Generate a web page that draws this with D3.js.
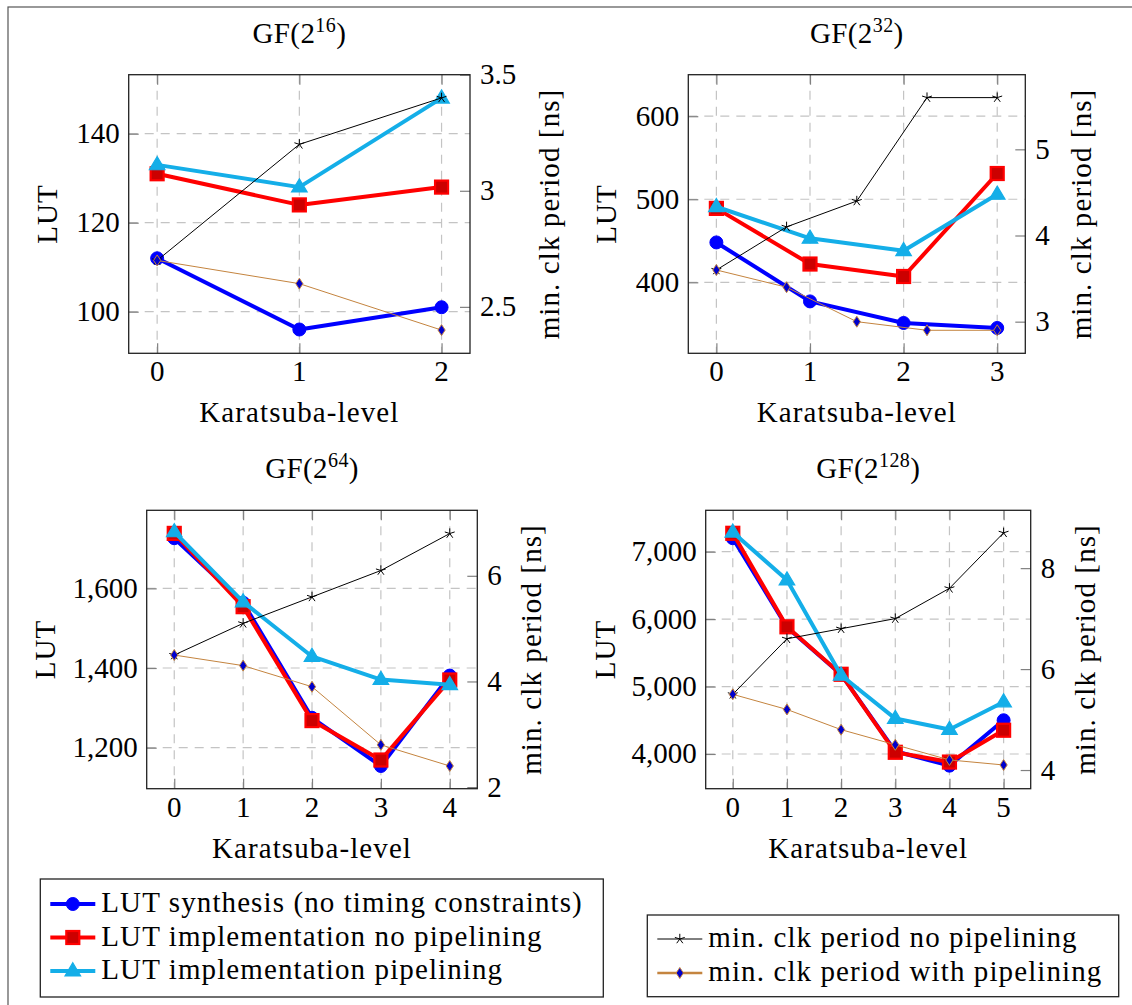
<!DOCTYPE html>
<html><head><meta charset="utf-8">
<script src="https://cdn.jsdelivr.net/npm/d3@7"></script>
</head>
<body style="margin:0"><svg id="c" width="1132" height="1005"></svg>
<script>
// ---------- data ----------
const levels16 = [0, 1, 2];
const lutSynth16 = [112, 96, 101];
const lutImplNoPipe16 = [131, 124, 128];
const lutImplPipe16 = [133, 128, 148];
const clkLevels16 = [0, 1, 2];
const clkNoPipe16 = [2.7, 3.2, 3.4];
const clkPipe16 = [2.7, 2.6, 2.4];

const levels32 = [0, 1, 2, 3];
const lutSynth32 = [448, 377, 351, 345];
const lutImplNoPipe32 = [489, 422, 407, 531];
const lutImplPipe32 = [491, 453, 438, 506];
const clkLevels32 = [0, 0.75, 1.5, 2.25, 3];
const clkNoPipe32 = [3.6, 4.1, 4.4, 5.6, 5.6];
const clkPipe32 = [3.6, 3.4, 3.0, 2.9, 2.9];

const levels64 = [0, 1, 2, 3, 4];
const lutSynth64 = [1726, 1564, 1275, 1154, 1381];
const lutImplNoPipe64 = [1738, 1554, 1268, 1169, 1370];
const lutImplPipe64 = [1742, 1566, 1429, 1371, 1358];
const clkLevels64 = [0, 1, 2, 3, 4];
const clkNoPipe64 = [4.5, 5.1, 5.6, 6.1, 6.8];
const clkPipe64 = [4.5, 4.3, 3.9, 2.8, 2.4];

const levels128 = [0, 1, 2, 3, 4, 5];
const lutSynth128 = [7200, 5880, 5180, 4040, 3827, 4500];
const lutImplNoPipe128 = [7273, 5886, 5182, 4025, 3880, 4352];
const lutImplPipe128 = [7290, 6580, 5168, 4525, 4362, 4772];
const clkLevels128 = [0, 1, 2, 3, 4, 5];
const clkNoPipe128 = [5.5, 6.6, 6.8, 7.0, 7.6, 8.7];
const clkPipe128 = [5.5, 5.2, 4.8, 4.5, 4.2, 4.1];

const titlesExp = ["16", "32", "64", "128"];
const lutTicks = [[100, 120, 140], [400, 500, 600], [1200, 1400, 1600], [4000, 5000, 6000, 7000]];
const clkTicks = [[2.5, 3, 3.5], [3, 4, 5], [2, 4, 6], [4, 6, 8]];
const seriesNames = ["LUT synthesis (no timing constraints)", "LUT implementation no pipelining",
  "LUT implementation pipelining", "min. clk period no pipelining", "min. clk period with pipelining"];

// ---------- layout / style ----------
const FS = 29;
const C = {blue: "#0000ff", red: "#ff0000", redFill: "#cc0000", cyan: "#14aee8",
  black: "#000", brown: "#c4843f", diamond: "#0000cc", grid: "#c4c4c4", tick: "#808080"};

const panels = [
  {exp: titlesExp[0], box: [128.7, 74.7, 470, 353.3], xd: [-0.2, 2.2], ld: [90.65, 153.26], rd: [2.3, 3.5],
   lev: levels16, lut: [lutSynth16, lutImplNoPipe16, lutImplPipe16], clkLev: clkLevels16, clk: [clkNoPipe16, clkPipe16],
   lt: lutTicks[0], rt: clkTicks[0], llab: 72, rlab: 89},
  {exp: titlesExp[1], box: [688.3, 74.7, 1025.3, 353.3], xd: [-0.3, 3.3], ld: [314.5, 650], rd: [2.633, 5.866],
   lev: levels32, lut: [lutSynth32, lutImplNoPipe32, lutImplPipe32], clkLev: clkLevels32, clk: [clkNoPipe32, clkPipe32],
   lt: lutTicks[1], rt: clkTicks[1], llab: 72, rlab: 66},
  {exp: titlesExp[2], box: [146.7, 510.3, 477.3, 788.7], xd: [-0.4, 4.4], ld: [1097, 1796], rd: [1.97, 7.24],
   lev: levels64, lut: [lutSynth64, lutImplNoPipe64, lutImplPipe64], clkLev: clkLevels64, clk: [clkNoPipe64, clkPipe64],
   lt: lutTicks[2], rt: clkTicks[2], llab: 92, rlab: 64},
  {exp: titlesExp[3], box: [705.7, 510.3, 1030.7, 788.7], xd: [-0.5, 5.5], ld: [3485, 7614], rd: [3.63, 9.146],
   lev: levels128, lut: [lutSynth128, lutImplNoPipe128, lutImplPipe128], clkLev: clkLevels128, clk: [clkNoPipe128, clkPipe128],
   lt: lutTicks[3], rt: clkTicks[3], llab: 91, rlab: 64},
];

const svg = d3.select("#c");
svg.append("rect").attr("x", 8).attr("y", 7).attr("width", 1140).attr("height", 1010)
  .attr("fill", "none").attr("stroke", "#555").attr("stroke-width", 1.2);

function marker(g, kind, x, y) {
  if (kind === 0) {
    g.append("circle").attr("cx", x).attr("cy", y).attr("r", 6.5).attr("fill", C.blue).attr("stroke", C.blue);
  } else if (kind === 1) {
    g.append("rect").attr("x", x - 6.5).attr("y", y - 6.5).attr("width", 13).attr("height", 13)
      .attr("fill", C.redFill).attr("stroke", C.red).attr("stroke-width", 2.2);
  } else if (kind === 2) {
    const s = 8.2;
    g.append("path").attr("d", `M${x},${y - s}L${x + s * 0.95},${y + s * 0.6}L${x - s * 0.95},${y + s * 0.6}Z`)
      .attr("fill", C.cyan).attr("stroke", C.cyan).attr("stroke-width", 1.2);
  } else if (kind === 3) {
    const r = 5.2; let d = "";
    for (let i = 0; i < 5; i++) {
      const a = -Math.PI / 2 + i * 2 * Math.PI / 5;
      d += `M${x},${y}L${x + r * Math.cos(a)},${y + r * Math.sin(a)}`;
    }
    g.append("path").attr("d", d).attr("stroke", C.black).attr("stroke-width", 1).attr("fill", "none");
  } else {
    g.append("path").attr("d", `M${x},${y - 5.5}L${x + 3.6},${y}L${x},${y + 5.5}L${x - 3.6},${y}Z`)
      .attr("fill", C.diamond).attr("stroke", C.brown).attr("stroke-width", 1);
  }
}
const lineStyle = [
  {c: C.blue, w: 4}, {c: C.red, w: 4}, {c: C.cyan, w: 4}, {c: C.black, w: 1}, {c: C.brown, w: 1}];

// all texts are appended straight to the svg root
const textQueue = [];
function addText(str, x, y, anchor, rot, ls, sup) {
  textQueue.push({str, x, y, anchor, rot, ls, sup});
}

panels.forEach(p => {
  const [x0, y0, x1, y1] = p.box;
  const x = d3.scaleLinear().domain(p.xd).range([x0, x1]);
  const yl = d3.scaleLinear().domain(p.ld).range([y1, y0]);
  const yr = d3.scaleLinear().domain(p.rd).range([y1, y0]);
  const g = svg.append("g");

  g.append("g").selectAll("line").data(p.lev).join("line")
    .attr("x1", d => x(d)).attr("x2", d => x(d)).attr("y1", y0).attr("y2", y1)
    .attr("stroke", C.grid).attr("stroke-width", 1.2).attr("stroke-dasharray", "9,7");
  g.append("g").selectAll("line").data(p.lt).join("line")
    .attr("x1", x0).attr("x2", x1).attr("y1", d => yl(d)).attr("y2", d => yl(d))
    .attr("stroke", C.grid).attr("stroke-width", 1.2).attr("stroke-dasharray", "9,7");

  const axes = [
    g.append("g").attr("transform", `translate(0,${y1})`).call(d3.axisBottom(x).tickValues(p.lev).tickSizeInner(-10).tickSizeOuter(0)),
    g.append("g").attr("transform", `translate(0,${y0})`).call(d3.axisTop(x).tickValues(p.lev).tickSizeInner(-10).tickSizeOuter(0)),
    g.append("g").attr("transform", `translate(${x0},0)`).call(d3.axisLeft(yl).tickValues(p.lt).tickSizeInner(-10).tickSizeOuter(0)),
    g.append("g").attr("transform", `translate(${x1},0)`).call(d3.axisRight(yr).tickValues(p.rt).tickSizeInner(-10).tickSizeOuter(0))
  ];
  axes.forEach(a => {
    a.attr("font-family", null).attr("font-size", null);
    a.select(".domain").remove();
    a.selectAll(".tick text").remove();
    a.selectAll(".tick line").attr("stroke", C.tick).attr("stroke-width", 1.2);
  });
  const fmtL = d3.format(",");
  p.lev.forEach(v => addText(d3.format("d")(v), x(v), y1 + 28, "middle"));
  p.lt.forEach(v => addText(fmtL(v), x0 - 9, yl(v) + 9.5, "end"));
  p.rt.forEach(v => addText(String(v), x1 + 10, yr(v) + 9.5, "start"));

  g.append("rect").attr("x", x0).attr("y", y0).attr("width", x1 - x0).attr("height", y1 - y0)
    .attr("fill", "none").attr("stroke", "#222").attr("stroke-width", 1.3);

  const all = [
    ...p.lut.map((vals, i) => ({k: i, pts: vals.map((v, j) => [x(p.lev[j]), yl(v)])})),
    ...p.clk.map((vals, i) => ({k: 3 + i, pts: vals.map((v, j) => [x(p.clkLev[j]), yr(v)])}))
  ];
  all.forEach(s => {
    const st = lineStyle[s.k];
    g.append("path").attr("d", d3.line()(s.pts)).attr("fill", "none")
      .attr("stroke", st.c).attr("stroke-width", st.w).attr("stroke-linejoin", "round");
    s.pts.forEach(pt => marker(g, s.k, pt[0], pt[1]));
  });

  const cx = (x0 + x1) / 2;
  addText(null, cx, y0 - 32, "middle", false, 0.4, p.exp);
  addText("Karatsuba-level", cx, y1 + 69, "middle", false, 1.1);
  const cy = (y0 + y1) / 2;
  addText("LUT", x0 - p.llab, cy, "middle", true, 1.1);
  addText("min. clk period [ns]", x1 + p.rlab, cy, "middle", true, 1.1);
});

function legend(x0, y0, w, h, rows) {
  const g = svg.append("g");
  g.append("rect").attr("x", x0).attr("y", y0).attr("width", w).attr("height", h)
    .attr("fill", "#fff").attr("stroke", "#222").attr("stroke-width", 1.3);
  rows.forEach(r => {
    const st = lineStyle[r.k];
    const my = r.base - 8;
    g.append("line").attr("x1", x0 + 10).attr("x2", x0 + 55).attr("y1", my).attr("y2", my)
      .attr("stroke", st.c).attr("stroke-width", r.k >= 3 ? (r.k === 4 ? 2.5 : 1) : 4);
    marker(g, r.k, x0 + 32.5, my);
    addText(seriesNames[r.k], x0 + 61, r.base, "start", false, 1.1);
  });
}
legend(40.3, 879, 563, 118, [{k: 0, base: 912}, {k: 1, base: 945.5}, {k: 2, base: 979}]);
legend(647.3, 915, 471.4, 81.7, [{k: 3, base: 947}, {k: 4, base: 981}]);

textQueue.forEach(d => {
  const t = svg.append("text").attr("text-anchor", d.anchor)
    .style("font-family", "\"Liberation Serif\"", "important").style("font-size", FS + "px");
  if (d.ls) t.attr("letter-spacing", d.ls);
  if (d.rot) t.attr("transform", `translate(${d.x},${d.y}) rotate(-90)`);
  else t.attr("x", d.x).attr("y", d.y);
  if (d.sup) {
    t.append("tspan").text("GF(2");
    t.append("tspan").attr("dy", -11).style("font-size", "20px").text(d.sup);
    t.append("tspan").attr("dy", 11).text(")");
  } else {
    t.text(d.str);
  }
});
</script></body></html>
